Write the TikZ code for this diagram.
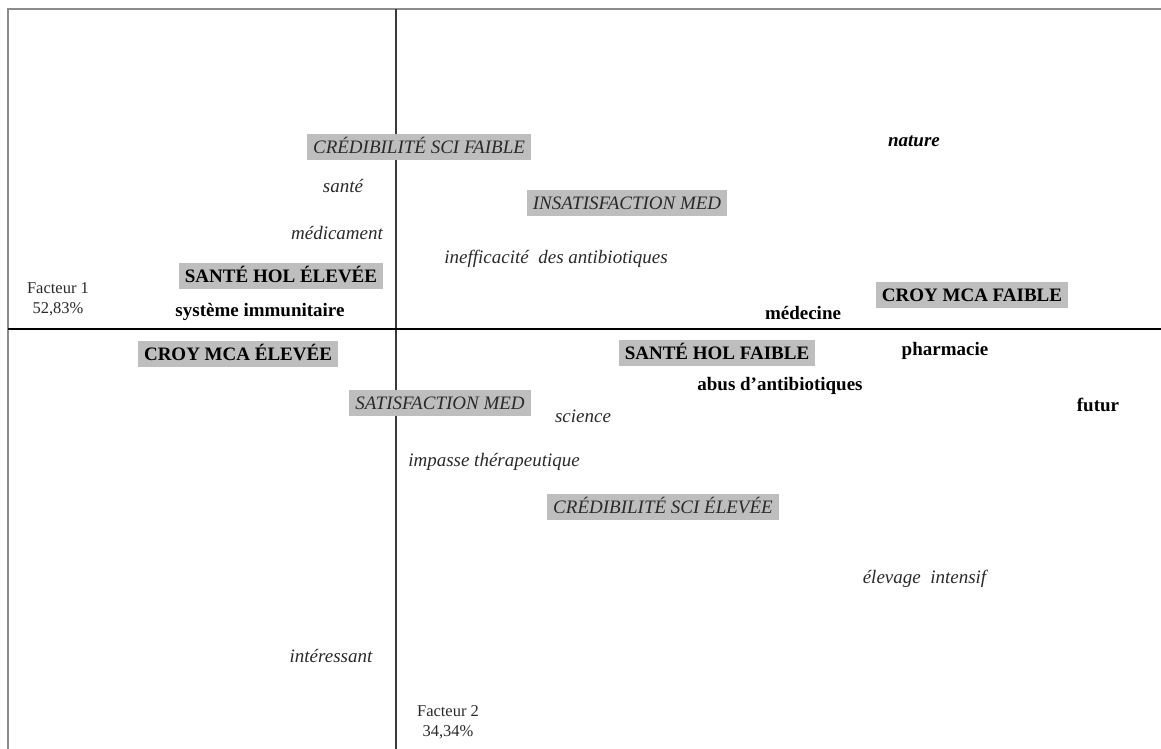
\documentclass[tikz,border=0pt]{standalone}
\usepackage{fontspec}
\setmainfont{Liberation Serif}
\definecolor{boxgray}{HTML}{BEBEBE}
\definecolor{framegray}{HTML}{8C8C8C}
\definecolor{axisgray}{HTML}{3A3A3A}
\definecolor{txtgray}{HTML}{2A2A2A}
\tikzset{
  lbl/.style={inner sep=0pt, text height=13pt, text depth=0pt, anchor=center, font=\fontsize{19}{22}\selectfont},
  bl/.style={lbl, font=\fontsize{19}{22}\selectfont\bfseries, text=black},
  it/.style={lbl, font=\fontsize{19}{22}\selectfont\itshape, text=txtgray},
  bit/.style={lbl, font=\fontsize{19}{22}\selectfont\bfseries\itshape, text=black},
  boxb/.style={bl, fill=boxgray, inner xsep=6pt, inner ysep=6.5pt},
  boxi/.style={it, fill=boxgray, inner xsep=6pt, inner ysep=6.5pt},
  fac/.style={inner sep=0pt, align=center, font=\fontsize{16.5}{20}\selectfont, text=txtgray},
}
\begin{document}
\begin{tikzpicture}[x=1pt,y=-1pt]
\useasboundingbox (0,0) rectangle (1161,749);
\fill[white] (0,0) rectangle (1161,749);
% frame
\coordinate (tl) at (8,9.5);
\coordinate (tr) at (1161,9.5);
\coordinate (bl) at (8,749);
\draw[framegray, line width=2pt] (bl) -- (tl) -- (tr);
% axes
\coordinate (vtop) at (396,9.5);
\coordinate (vbot) at (396,749);
\coordinate (hl) at (8,329);
\coordinate (hr) at (1161,329);
\draw[axisgray, line width=2pt] (vtop) -- (vbot);
\draw[black, line width=1.8pt] (hl) -- (hr);
% boxed labels
\node[boxi] (csf) at (419,147) {CRÉDIBILITÉ SCI FAIBLE};
\node[boxi] (ins) at (627,203) {INSATISFACTION MED};
\node[boxb] (she) at (281,276) {SANTÉ HOL ÉLEVÉE};
\node[boxb] (cmf) at (972,295) {CROY MCA FAIBLE};
\node[boxb] (cme) at (238,354) {CROY MCA ÉLEVÉE};
\node[boxb] (shf) at (717,353) {SANTÉ HOL FAIBLE};
\node[boxi] (sat) at (440,403) {SATISFACTION MED};
\node[boxi] (cse) at (663,507) {CRÉDIBILITÉ SCI ÉLEVÉE};
% words
\node[it] (sante) at (343,186) {santé};
\node[it] (medic) at (337,233) {médicament};
\node[it] (ineff) at (556,256.5) {inefficacité\ \ des antibiotiques};
\node[bit] (nature) at (914,140) {nature};
\node[bl] (sysimm) at (260,310) {système immunitaire};
\node[bl] (medec) at (803,313) {médecine};
\node[bl] (pharma) at (945,349) {pharmacie};
\node[bl] (abus) at (780,384) {abus d'antibiotiques};
\node[bl] (futur) at (1098,405) {futur};
\node[it] (science) at (583,416) {science};
\node[it] (impasse) at (494,460) {impasse thérapeutique};
\node[it] (elev) at (924.5,577) {élevage\ \ intensif};
\node[it] (inter) at (331,656) {intéressant};
% factor labels
\node[fac] (f1) at (58,299) {Facteur 1\\52,83\%};
\node[fac] (f2) at (448,722) {Facteur 2\\34,34\%};
\end{tikzpicture}
\end{document}
